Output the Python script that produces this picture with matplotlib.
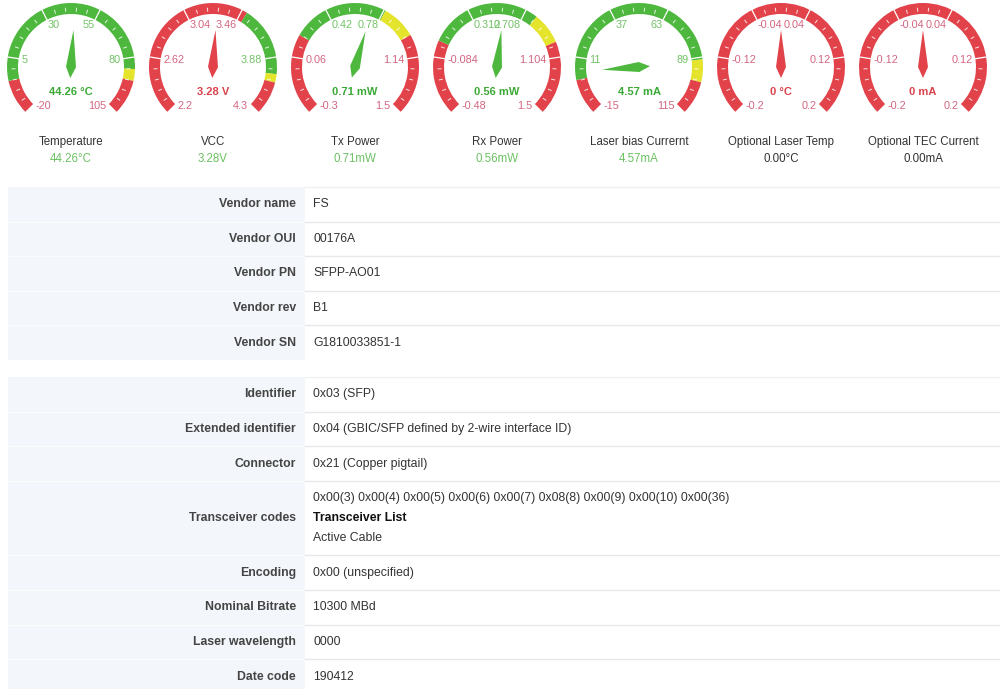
import numpy as np
import matplotlib
matplotlib.use('Agg')
from matplotlib import pyplot as plt
from matplotlib.patches import Wedge, Polygon, Rectangle

plt.rcParams['font.family'] = ['Liberation Sans', 'DejaVu Sans']

W, H = 1000, 689

# gauge data
gauge_titles = ['Temperature', 'VCC', 'Tx Power', 'Rx Power', 'Laser bias Currernt',
                'Optional Laser Temp', 'Optional TEC Current']
gauge_values = [44.26, 3.28, 0.71, 0.56, 4.57, 0.0, 0.0]
gauge_min = [-20, 2.2, -0.3, -0.48, -15, -0.2, -0.2]
gauge_max = [105, 4.3, 1.5, 1.5, 115, 0.2, 0.2]
gauge_units = ['°C', 'V', 'mW', 'mW', 'mA', '°C', 'mA']
gauge_center_text = ['44.26', '3.28', '0.71', '0.56', '4.57', '0', '0']
gauge_readings = ['44.26°C', '3.28V', '0.71mW', '0.56mW', '4.57mA', '0.00°C', '0.00mA']
reading_ok = [True, True, True, True, True, False, False]
gauge_zones = [
    [(-20, -5, 'r'), (-5, 85, 'g'), (85, 90, 'y'), (90, 105, 'r')],
    [(2.2, 3.5, 'r'), (3.5, 4.0, 'g'), (4.0, 4.06, 'y'), (4.06, 4.3, 'r')],
    [(-0.3, 0.2, 'r'), (0.2, 0.79, 'g'), (0.79, 1.0, 'y'), (1.0, 1.5, 'r')],
    [(-0.48, 0.03, 'r'), (0.03, 0.79, 'g'), (0.79, 1.0, 'y'), (1.0, 1.5, 'r')],
    [(-15, 1, 'r'), (1, 90, 'g'), (90, 100, 'y'), (100, 115, 'r')],
    [(-0.2, 0.2, 'r')],
    [(-0.2, 0.2, 'r')],
]

# table data
table1_labels = ['Vendor name', 'Vendor OUI', 'Vendor PN', 'Vendor rev', 'Vendor SN']
table1_values = [['FS'], ['00176A'], ['SFPP-AO01'], ['B1'], ['G1810033851-1']]
table2_labels = ['Identifier', 'Extended identifier', 'Connector', 'Transceiver codes',
                 'Encoding', 'Nominal Bitrate', 'Laser wavelength', 'Date code']
table2_values = [
    ['0x03 (SFP)'],
    ['0x04 (GBIC/SFP defined by 2-wire interface ID)'],
    ['0x21 (Copper pigtail)'],
    ['0x00(3) 0x00(4) 0x00(5) 0x00(6) 0x00(7) 0x08(8) 0x00(9) 0x00(10) 0x00(36)',
     'Transceiver List', 'Active Cable'],
    ['0x00 (unspecified)'],
    ['10300 MBd'],
    ['0000'],
    ['190412'],
]

arc_colors = {'r': '#e2434b', 'g': '#4db83d', 'y': '#e4e42c'}
label_colors = {'r': '#d36580', 'g': '#72c266', 'y': '#c9c92a'}
value_colors = {'r': '#d9434b', 'g': '#3aa935', 'y': '#b8b820'}

fig = plt.figure(figsize=(W / 100, H / 100), dpi=100)
ax = fig.add_axes([0, 0, 1, 1])
ax.set_xlim(0, W)
ax.set_ylim(H, 0)
ax.axis('off')

R_OUT, ARC_W = 64, 11
GAUGE_Y = 67


def to_angle(v, lo, hi):
    return 225 - (v - lo) / (hi - lo) * 270


def pt(cx, cy, r, a):
    t = np.radians(a)
    return cx + r * np.cos(t), cy - r * np.sin(t)


def zone_of(v, zones):
    for z0, z1, c in zones:
        if z0 <= v <= z1:
            return c
    return zones[-1][2]


for i, title in enumerate(gauge_titles):
    cx, cy = 71 + 142 * i, GAUGE_Y
    lo, hi = gauge_min[i], gauge_max[i]
    zones = gauge_zones[i]

    # coloured arc
    for z0, z1, c in zones:
        a0, a1 = to_angle(z0, lo, hi), to_angle(z1, lo, hi)
        ax.add_patch(Wedge((cx, cy), R_OUT, -a0, -a1, width=ARC_W,
                           facecolor=arc_colors[c], edgecolor='none'))

    # ticks + labels
    step = (hi - lo) / 25
    for k in range(26):
        a = to_angle(lo + k * step, lo, hi)
        if k % 5 == 0:
            p0, p1 = pt(cx, cy, R_OUT - ARC_W, a), pt(cx, cy, R_OUT, a)
            ax.plot([p0[0], p1[0]], [p0[1], p1[1]], color='white', lw=0.9)
        else:
            p0, p1 = pt(cx, cy, R_OUT - 8, a), pt(cx, cy, R_OUT - 5, a)
            ax.plot([p0[0], p1[0]], [p0[1], p1[1]], color='white', lw=0.7, alpha=0.85)
    for k, v in enumerate(np.linspace(lo, hi, 6)):
        a = to_angle(v, lo, hi)
        t = np.radians(a)
        # labels are anchored by their outer edge
        rx = 52 if np.sin(t) > 0.5 else 50
        x = cx + rx * np.cos(t)
        y = cy - 47 * np.sin(t) + (6 if k in (0, 5) else 0)
        ax.text(x, y, '%g' % round(v, 3), ha='left' if np.cos(t) < 0 else 'right',
                va='center', fontsize=7.8, color=label_colors[zone_of(v, zones)])

    # needle
    val = gauge_values[i]
    a = to_angle(val, lo, hi)
    tip = pt(cx, cy, 37, a)
    back = pt(cx, cy, -11, a)
    s1 = pt(cx, cy, 5, a + 90)
    s2 = pt(cx, cy, 5, a - 90)
    zc = zone_of(val, zones)
    ax.add_patch(Polygon([tip, s1, back, s2], closed=True,
                         facecolor=arc_colors[zc], edgecolor='none'))

    ax.text(cx, 92, '%s %s' % (gauge_center_text[i], gauge_units[i]), ha='center', va='center',
            fontsize=8, fontweight='bold', color=value_colors[zc])

    ax.text(cx, 142, title, ha='center', va='center', fontsize=8.3, color='#333333')
    ax.text(cx, 159, gauge_readings[i], ha='center', va='center', fontsize=8.3,
            color='#6cc163' if reading_ok[i] else '#333333')


ROW_H = 34.6
LINE_H = 20
LEFT_X, SPLIT_X = 8, 305


def draw_table(top, labels, values):
    heights = [ROW_H + LINE_H * (len(v) - 1) for v in values]
    total = sum(heights)
    ax.add_patch(Rectangle((LEFT_X, top), SPLIT_X - LEFT_X, total,
                           facecolor='#f3f6fa', edgecolor='none'))
    y = top
    for lab, vals, h in zip(labels, values, heights):
        mid = y + h / 2
        ax.text(SPLIT_X - 9, mid, lab, ha='right', va='center', fontsize=8.8,
                fontweight='bold', color='#444444')
        n = len(vals)
        for j, v in enumerate(vals):
            vy = mid + (j - (n - 1) / 2) * LINE_H
            bold = n > 1 and j == 1
            ax.text(SPLIT_X + 8, vy, v, ha='left', va='center', fontsize=8.8,
                    fontweight='bold' if bold else 'normal',
                    color='#111111' if bold else '#333333')
        if y > top:
            ax.plot([LEFT_X, SPLIT_X], [y, y], color='#fbfcfd', lw=1)
            ax.plot([SPLIT_X, W], [y, y], color='#e6e9ec', lw=1)
        y += h
    ax.plot([SPLIT_X, W], [top, top], color='#eef0f2', lw=1)


draw_table(187, table1_labels, table1_values)
draw_table(377, table2_labels, table2_values)

fig.savefig('out.png', dpi=100, facecolor='white')
